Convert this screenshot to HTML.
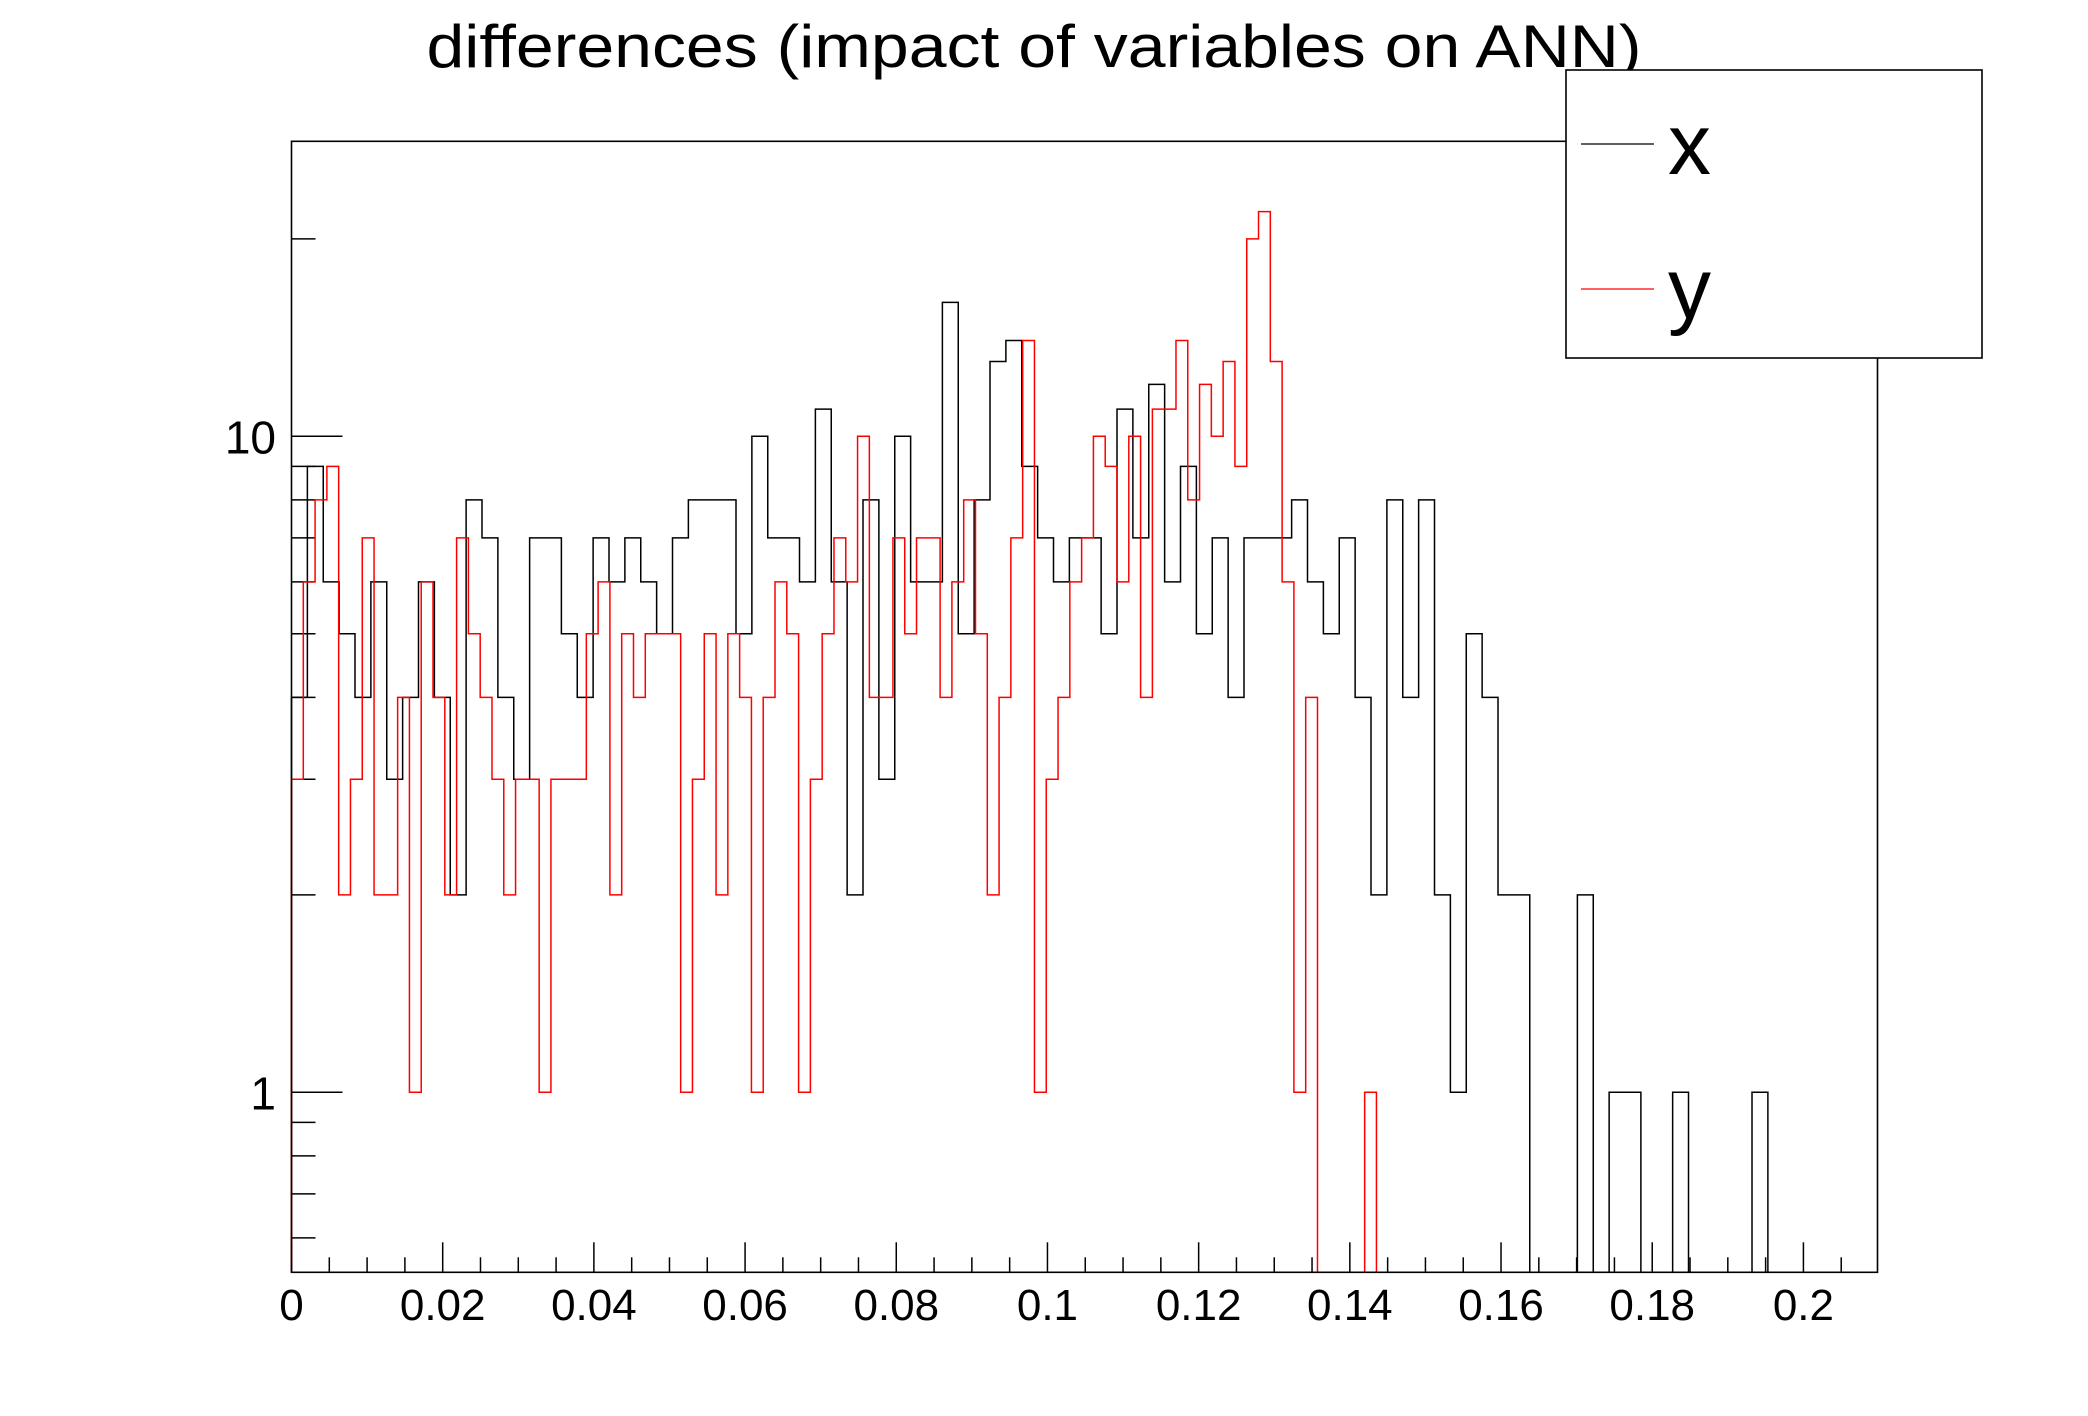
<!DOCTYPE html>
<html><head><meta charset="utf-8"><style>
html,body{margin:0;padding:0;background:#fff;}
svg{display:block;font-family:"Liberation Sans",Arial,sans-serif;}
</style></head><body>
<svg id="chart" width="2088" height="1416" viewBox="0 0 2088 1416" xmlns="http://www.w3.org/2000/svg">
<rect width="2088" height="1416" fill="#fff"/>
<text x="1034" y="67" font-size="60" text-anchor="middle" textLength="1215" lengthAdjust="spacingAndGlyphs">differences (impact of variables on ANN)</text>
<g id="ticks"></g>
<g id="series"></g>
<rect x="291.5" y="141.3" width="1586" height="1131" fill="none" stroke="#000" stroke-width="1.6"/>
<g>
<rect x="1566" y="70" width="416" height="288" fill="#fff" stroke="#000" stroke-width="1.6"/>
<line x1="1581" y1="144" x2="1654" y2="144" stroke="#000" stroke-width="1.3"/>
<text x="1668" y="174" font-size="86">x</text>
<line x1="1581" y1="289" x2="1654" y2="289" stroke="#f00" stroke-width="1.3"/>
<text x="1668" y="318" font-size="86">y</text>
</g>
</svg>
<script>
const blackCounts = [4,9,6,5,4,6,3,4,6,4,2,8,7,4,3,7,7,5,4,7,6,7,6,5,7,8,8,8,5,10,7,7,6,11,6,2,8,3,10,6,6,16,5,8,13,14,9,7,6,7,7,5,11,7,12,6,9,5,7,4,7,7,7,8,6,5,7,4,2,8,4,8,2,1,5,4,2,2,0,0,0,2,0,1,1,0,0,1,0,0,0,0,1,0,0,0,0,0,0,0];
const redCounts = [3,6,8,9,2,3,7,2,2,4,1,6,4,2,7,5,4,3,2,3,3,1,3,3,3,5,6,2,5,4,5,5,5,1,3,5,2,5,4,1,4,6,5,1,3,5,7,6,10,4,4,7,5,7,7,4,6,8,5,2,4,7,14,1,3,4,6,7,10,9,6,10,4,11,11,14,8,12,10,13,9,20,22,13,6,1,4,0,0,0,0,1,0,0,0,0,0,0,0,0];
const blackRange = [0, 0.21];
const redRange = [0, 0.156];
const xTickLabels = ["0","0.02","0.04","0.06","0.08","0.1","0.12","0.14","0.16","0.18","0.2"];
const yTickLabels = ["1","10"];
const NS = "http://www.w3.org/2000/svg";
const L = 291.5, R = 1877.5, T = 141.3, B = 1272.3;
const XMIN = 0, XMAX = 0.2098;
const Y1 = 1092.3, DEC = 656;
function X(v){ return L + (v - XMIN) / (XMAX - XMIN) * (R - L); }
function Y(v){ return Y1 - DEC * Math.log10(v); }
const ticks = document.getElementById('ticks');
function line(x1,y1,x2,y2,parent,name,color,w){
  const l = document.createElementNS(NS,'line');
  l.setAttribute('x1',x1); l.setAttribute('y1',y1); l.setAttribute('x2',x2); l.setAttribute('y2',y2);
  l.setAttribute('stroke',color||'#000'); l.setAttribute('stroke-width',w||1.5);
  
  
  parent.appendChild(l); return l;
}
// x ticks
for (let i = 0; i * 0.005 <= XMAX + 1e-9; i++) {
  const v = i * 0.005, major = (i % 4 === 0);
  line(X(v), B, X(v), B - (major ? 30 : 15), ticks, major ? 'x-major-tick' : 'x-minor-tick');
}
xTickLabels.forEach(function(s){
  const t = document.createElementNS(NS,'text');
  t.setAttribute('x', X(parseFloat(s))); t.setAttribute('y', 1320);
  t.setAttribute('font-size', 44); t.setAttribute('text-anchor','middle');
  t.textContent = s;
  
  
  ticks.appendChild(t);
});
// y ticks
const yMinor = [0.6,0.7,0.8,0.9,2,3,4,5,6,7,8,9,20];
yMinor.forEach(function(v){
  const y = Y(v); if (y < T || y > B) return;
  line(L, y, L + 24, y, ticks, 'y-minor-tick');
});
yTickLabels.forEach(function(s){
  const v = parseFloat(s);
  line(L, Y(v), L + 51, Y(v), ticks, 'y-major-tick');
  const t = document.createElementNS(NS,'text');
  t.setAttribute('x', 276); t.setAttribute('y', Y(v) + 17);
  t.setAttribute('font-size', 46); t.setAttribute('text-anchor','end');
  t.textContent = s;
  
  
  ticks.appendChild(t);
});
// histograms
const series = document.getElementById('series');
function hist(counts, range, color, name){
  const n = counts.length, bw = (range[1] - range[0]) / n;
  let d = 'M' + X(range[0]) + ' ' + B;
  for (let i = 0; i < n; i++) {
    const x0 = Math.min(X(range[0] + i * bw), R), x1 = Math.min(X(range[0] + (i + 1) * bw), R);
    const y = counts[i] > 0 ? Math.max(T, Math.min(B, Y(counts[i]))) : B;
    d += ' L' + x0 + ' ' + y + ' L' + x1 + ' ' + y;
  }
  d += ' L' + Math.min(X(range[1]), R) + ' ' + B;
  const p = document.createElementNS(NS,'path');
  p.setAttribute('d', d); p.setAttribute('fill','none');
  p.setAttribute('stroke', color); p.setAttribute('stroke-width', 1.5);
  
  
  series.appendChild(p);
}
hist(blackCounts, blackRange, '#000', 'histogram-x');
hist(redCounts, redRange, '#f00', 'histogram-y');
</script>
</body></html>
